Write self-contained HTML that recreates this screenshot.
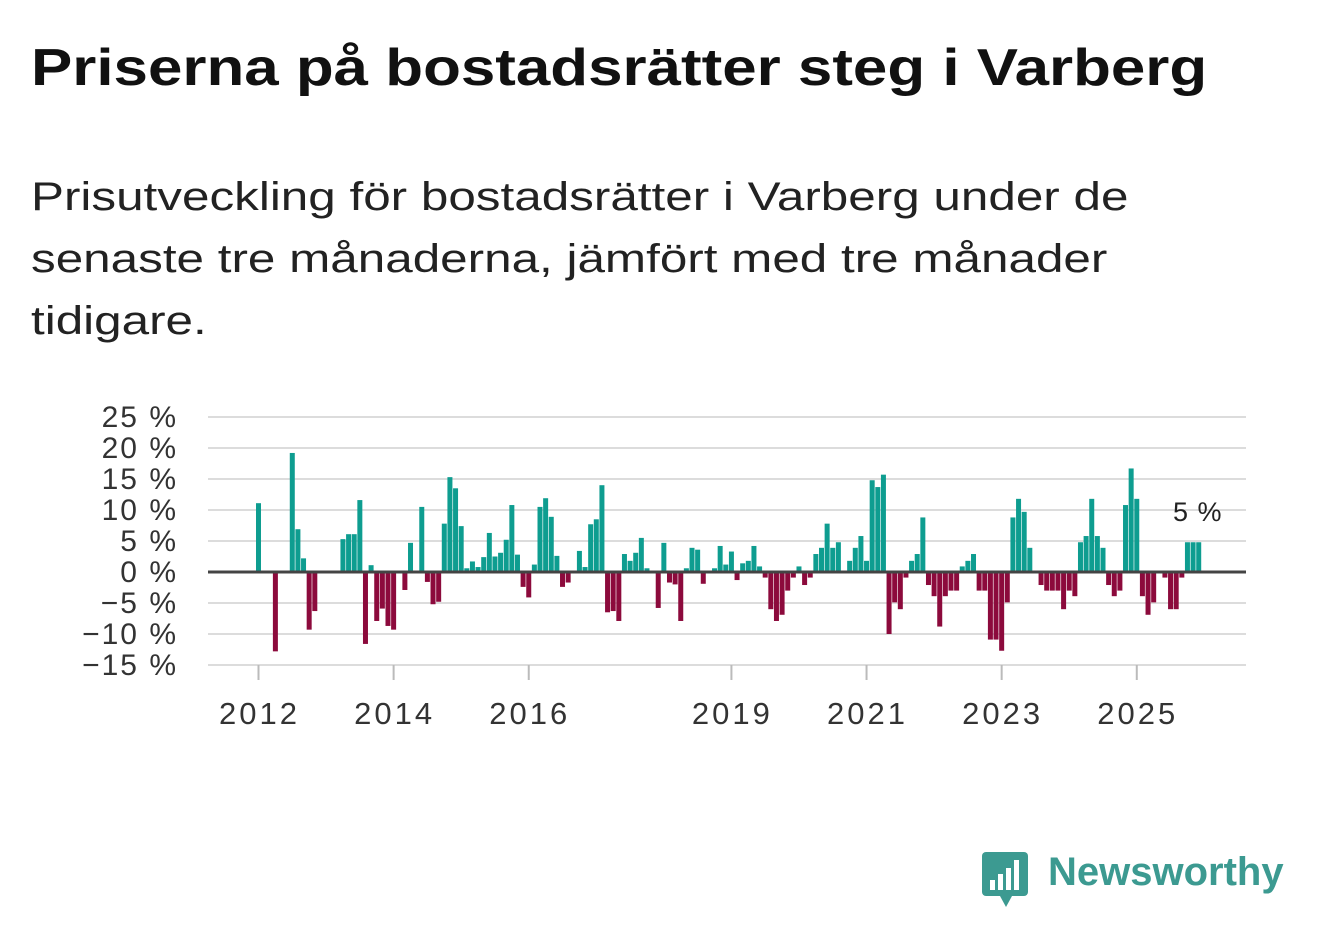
<!DOCTYPE html>
<html><head><meta charset="utf-8"><style>
body{margin:0;background:#fff;width:1322px;height:939px;overflow:hidden;font-family:"Liberation Sans",sans-serif;color:#111}
h1{position:absolute;left:31px;top:38px;margin:0;font-size:52px;font-weight:bold;white-space:nowrap;transform:scaleX(1.19);transform-origin:0 0}
.sub{position:absolute;left:31px;top:166px;font-size:40px;line-height:62px;white-space:nowrap;color:#222;transform:scaleX(1.235);transform-origin:0 0}
</style></head><body>
<h1>Priserna på bostadsrätter steg i Varberg</h1>
<div class="sub">Prisutveckling för bostadsrätter i Varberg under de<br>senaste tre månaderna, jämfört med tre månader<br>tidigare.</div>
<svg id="chart" width="1322" height="939" style="position:absolute;left:0;top:0" font-family="Liberation Sans, sans-serif"></svg>
<div style="position:absolute;left:982px;top:850px;">
<svg width="48" height="58"><rect x="0" y="2" width="46" height="44" rx="4" fill="#3c9a91"/><polygon points="18,46 30,46 24,57" fill="#3c9a91"/><rect x="8" y="30" width="5" height="10" fill="#fff"/><rect x="16" y="24" width="5" height="16" fill="#fff"/><rect x="24" y="18" width="5" height="22" fill="#fff"/><rect x="32" y="10" width="5" height="30" fill="#fff"/></svg>
<span style="position:absolute;left:66px;top:0;font-size:40px;font-weight:bold;color:#3c9a91;white-space:nowrap">Newsworthy</span></div>
<script>
const values=[11.1,null,null,-12.8,null,null,19.2,6.9,2.2,-9.3,-6.3,null,null,null,null,5.3,6.1,6.1,11.6,-11.6,1.1,-7.9,-5.9,-8.7,-9.3,null,-2.9,4.7,null,10.5,-1.6,-5.2,-4.8,7.8,15.3,13.5,7.4,0.6,1.7,0.8,2.4,6.3,2.5,3.1,5.2,10.8,2.8,-2.4,-4.1,1.2,10.5,11.9,8.9,2.6,-2.4,-1.7,null,3.4,0.8,7.7,8.5,14.0,-6.5,-6.3,-7.9,2.9,1.8,3.1,5.5,0.6,null,-5.8,4.7,-1.7,-2.0,-7.9,0.6,3.9,3.6,-1.9,null,0.6,4.2,1.2,3.3,-1.3,1.4,1.8,4.2,0.9,-0.9,-6.0,-7.9,-6.9,-3.0,-0.9,0.9,-2.1,-0.9,2.9,3.9,7.8,3.9,4.8,null,1.8,3.9,5.8,1.8,14.8,13.7,15.7,-10.0,-4.9,-6.0,-0.9,1.8,2.9,8.8,-2.1,-3.9,-8.8,-3.9,-3.0,-3.0,0.9,1.8,2.9,-3.0,-3.0,-10.9,-10.9,-12.7,-4.9,8.8,11.8,9.7,3.9,null,-2.1,-3.0,-3.0,-3.0,-6.0,-3.0,-3.9,4.8,5.8,11.8,5.8,3.9,-2.1,-3.9,-3.0,10.8,16.7,11.8,-3.9,-6.9,-4.9,null,-0.9,-6.0,-6.0,-0.9,4.8,4.8,4.8];
const yTicks=[25,20,15,10,5,0,-5,-10,-15];
const yearLabels=["2012","2014","2016","2019","2021","2023","2025"];
const yearIdx=[0,24,48,84,108,132,156];
const lastLabel="5 %";
const svg=document.getElementById('chart');const NS="http://www.w3.org/2000/svg";
const x0=258.5,step=5.63,y0=572,ppu=6.2;
const X=i=>x0+i*step, Y=v=>y0-v*ppu;
function mk(t,a,txt){const e=document.createElementNS(NS,t);for(const k in a)e.setAttribute(k,a[k]);if(txt!=null)e.textContent=txt;svg.appendChild(e);return e;}
yTicks.forEach(t=>{const g=mk('line',{x1:208,x2:1246,y1:Y(t),y2:Y(t),stroke:'#dcdcdc','stroke-width':2});


const l=mk('text',{x:178,y:Y(t)+10,'text-anchor':'end','font-size':30,'letter-spacing':2,fill:'#333'},(t<0?'−'+(-t):t)+' %');

});
yearIdx.forEach((i,k)=>{const tk=mk('line',{x1:X(i),x2:X(i),y1:665,y2:680,stroke:'#bbb','stroke-width':2});


const l=mk('text',{x:X(i)+1,y:724,'text-anchor':'middle','font-size':31,'letter-spacing':3,fill:'#333'},yearLabels[k]);

});
values.forEach((v,i)=>{if(v==null)return;const r=mk('rect',{x:X(i)-2.5,width:5,y:v>=0?Y(v):y0,height:Math.abs(v)*ppu,fill:v>=0?'#0e9d90':'#8c0a3c'});

});
const z=mk('line',{x1:208,x2:1246,y1:y0,y2:y0,stroke:'#444','stroke-width':3});


const li=values.length-1;
const lab=mk('text',{x:X(li)-1,y:Y(values[li])-21,'text-anchor':'middle','font-size':27,'letter-spacing':1,fill:'#222'},lastLabel);


</script>
</body></html>
